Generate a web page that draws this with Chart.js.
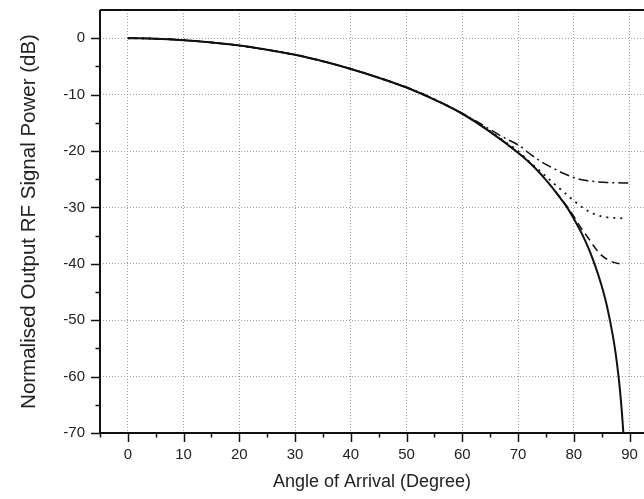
<!DOCTYPE html>
<html>
<head>
<meta charset="utf-8">
<script src="https://cdn.jsdelivr.net/npm/chart.js@4/dist/chart.umd.min.js"></script>
<style>
  html, body { margin: 0; padding: 0; background: #fff; }
  #wrap { width: 644px; height: 499px; }
</style>
</head>
<body>
<div id="wrap"><canvas id="c" width="644" height="499"></canvas></div>
<script>
// angle of arrival (degree) and normalised power (dB)
const angleSolid = [0, 5, 10, 15, 20, 25, 30, 35, 40, 45, 50, 55, 60, 65, 70, 72, 74, 76, 78, 79, 80, 81, 82, 83, 84, 85, 86, 87, 87.5, 88, 88.3, 88.6, 88.9];
const powerSolid = [0, -0.08, -0.35, -0.75, -1.3, -2.05, -2.95, -4.1, -5.45, -7.0, -8.75, -10.9, -13.4, -16.6, -20.3, -22.0, -24.0, -26.3, -28.9, -30.3, -32.0, -33.8, -35.8, -38.1, -40.8, -43.9, -47.7, -52.7, -55.8, -59.7, -62.5, -65.9, -70];

const angleDashDot = [0, 5, 10, 15, 20, 25, 30, 35, 40, 45, 50, 55, 60, 62, 64, 66, 68, 70, 72, 74, 76, 78, 80, 82, 84, 86, 88, 90];
const powerDashDot = [0, -0.08, -0.35, -0.75, -1.3, -2.05, -2.95, -4.1, -5.45, -7.0, -8.7, -10.8, -13.3, -14.4, -15.6, -16.8, -17.9, -18.9, -20.4, -21.8, -22.9, -23.9, -24.7, -25.2, -25.45, -25.6, -25.65, -25.7];

const angleDotted = [0, 5, 10, 15, 20, 25, 30, 35, 40, 45, 50, 55, 60, 62, 64, 66, 68, 70, 72, 74, 76, 78, 80, 82, 84, 86, 88, 89];
const powerDotted = [0, -0.08, -0.35, -0.75, -1.3, -2.05, -2.95, -4.1, -5.45, -7.0, -8.75, -10.85, -13.35, -14.5, -15.8, -17.2, -18.6, -20.0, -21.9, -23.6, -25.4, -27.1, -28.8, -30.3, -31.3, -31.75, -31.9, -31.95];

const angleDashed = [0, 5, 10, 15, 20, 25, 30, 35, 40, 45, 50, 55, 60, 65, 70, 72, 74, 76, 78, 79, 80, 81, 82, 83, 84, 85, 86, 87, 88, 89];
const powerDashed = [0, -0.08, -0.35, -0.75, -1.3, -2.05, -2.95, -4.1, -5.45, -7.0, -8.75, -10.9, -13.4, -16.6, -20.3, -22.0, -24.0, -26.3, -28.8, -30.1, -31.6, -33.2, -34.6, -36.0, -37.4, -38.5, -39.2, -39.7, -39.95, -40.0];

const xTicks = [0, 10, 20, 30, 40, 50, 60, 70, 80, 90];
const yTicks = [-70, -60, -50, -40, -30, -20, -10, 0];

const FONT = '"Liberation Sans", Arial, Helvetica, sans-serif';

function pts(xs, ys) {
  return xs.map((x, i) => ({ x: x, y: ys[i] }));
}

function line(xs, ys, dash, width) {
  return {
    data: pts(xs, ys),
    borderColor: '#111',
    borderWidth: width,
    borderDash: dash,
    pointRadius: 0,
    fill: false,
    cubicInterpolationMode: 'monotone'
  };
}

// axis lines, top frame line and major/minor tick marks
const frame = {
  id: 'frame',
  afterDraw(chart) {
    const { ctx, chartArea: a, scales: { x, y } } = chart;
    ctx.save();
    ctx.strokeStyle = '#111';
    ctx.lineWidth = 2;
    ctx.beginPath();
    ctx.moveTo(a.left, a.top);
    ctx.lineTo(a.right, a.top);
    ctx.moveTo(a.left, a.top);
    ctx.lineTo(a.left, a.bottom);
    ctx.lineTo(a.right, a.bottom);
    ctx.stroke();

    ctx.lineWidth = 1.5;
    ctx.beginPath();
    for (let v = -5; v <= 90; v += 5) {
      const px = Math.round(x.getPixelForValue(v)) + 0.5;
      const len = v % 10 === 0 ? 9 : 4.5;
      ctx.moveTo(px, a.bottom);
      ctx.lineTo(px, a.bottom + len);
    }
    for (let v = -70; v <= 0; v += 5) {
      const py = Math.round(y.getPixelForValue(v)) + 0.5;
      const len = v % 10 === 0 ? 9 : 4.5;
      ctx.moveTo(a.left, py);
      ctx.lineTo(a.left - len, py);
    }
    ctx.stroke();
    ctx.restore();
  }
};

new Chart(document.getElementById('c'), {
  type: 'line',
  data: {
    datasets: [
      line(angleSolid, powerSolid, [], 2),
      line(angleDashDot, powerDashDot, [10, 4, 2, 4], 1.5),
      line(angleDotted, powerDotted, [2, 5], 1.8),
      line(angleDashed, powerDashed, [8, 5], 1.5)
    ]
  },
  options: {
    responsive: false,
    animation: false,
    layout: { padding: { top: 10, right: 0, left: 0, bottom: 0 } },
    plugins: { legend: { display: false }, tooltip: { enabled: false } },
    scales: {
      x: {
        type: 'linear',
        min: -5,
        max: 92.6,
        afterBuildTicks: s => { s.ticks = xTicks.map(v => ({ value: v })); },
        afterFit: s => { s.height = 66; s.paddingLeft = 0; s.paddingRight = 0; },
        grid: { color: '#a0a0a0', lineWidth: 1, drawTicks: false },
        border: { display: false, dash: [1, 2] },
        ticks: { color: '#222', padding: 13, font: { family: FONT, size: 15 }, maxRotation: 0 },
        title: {
          display: true,
          text: 'Angle of Arrival (Degree)',
          color: '#222',
          font: { family: FONT, size: 18 },
          padding: { top: 0, bottom: 6 }
        }
      },
      y: {
        type: 'linear',
        min: -70,
        max: 5,
        afterBuildTicks: s => { s.ticks = yTicks.map(v => ({ value: v })); },
        afterFit: s => { s.width = 100; s.paddingTop = 0; s.paddingBottom = 0; },
        grid: { color: '#a0a0a0', lineWidth: 1, drawTicks: false },
        border: { display: false, dash: [1, 2] },
        ticks: { color: '#222', padding: 15, font: { family: FONT, size: 15 } },
        title: {
          display: true,
          text: 'Normalised Output RF Signal Power (dB)',
          color: '#222',
          font: { family: FONT, size: 20.5 },
          padding: { top: 17.5, bottom: 0 }
        }
      }
    }
  },
  plugins: [frame]
});
</script>
</body>
</html>
